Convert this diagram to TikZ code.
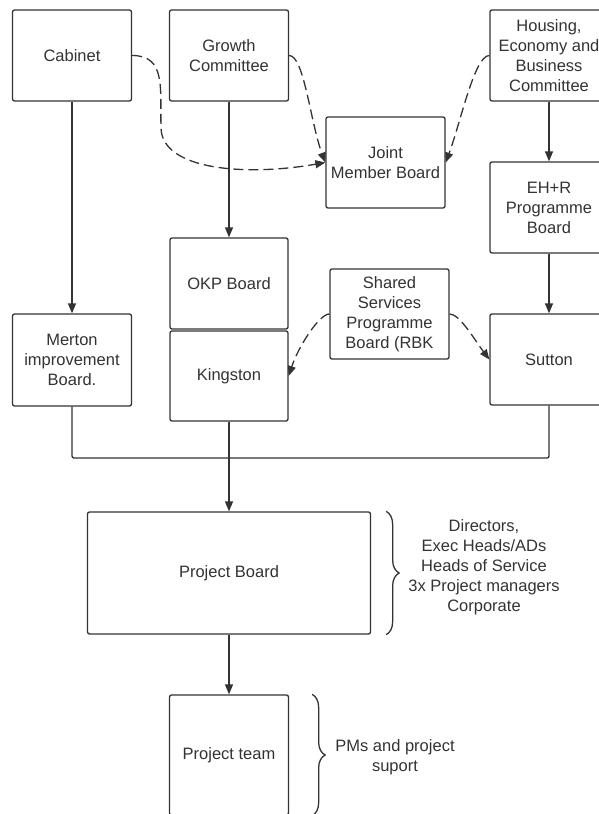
\documentclass[tikz,border=0pt]{standalone}
\usepackage{fontspec}
\setmainfont{Liberation Sans}
\usetikzlibrary{arrows.meta,decorations.pathreplacing}
\definecolor{linegrey}{HTML}{333333}

\begin{document}
\begin{tikzpicture}[x=1pt, y=-1pt,
  box/.style={draw=linegrey, line width=1.3pt, rounded corners=2pt, fill=white, align=center, inner sep=0pt, minimum width=119pt, minimum height=91pt, text=linegrey, font=\fontsize{16.5}{20}\selectfont},
  link/.style={draw=linegrey, line width=1.3pt, -{Triangle[length=10pt,width=8pt]}},
  dashlink/.style={link, dash pattern=on 10pt off 5pt},
  note/.style={align=center, text=linegrey, font=\fontsize{16.5}{20}\selectfont},
  bracket/.style={draw=linegrey, line width=1.3pt, decorate, decoration={brace, amplitude=13pt}}]
  \useasboundingbox (0,0) rectangle (599,814);
  \clip (0,0) rectangle (599,814);
  \node[box] (cab) at (72,55.5) {Cabinet};
  \node[box] (growth) at (229,55.5) {Growth\\Committee};
  \node[box, minimum width=118pt] (hebc) at (549,55.5) {Housing,\\Economy and\\Business\\Committee};
  \node[box] (jmb) at (385.5,162.5) {Joint\\Member Board};
  \node[box, minimum width=118pt] (ehr) at (549,207.5) {EH+R\\Programme\\Board};
  \node[box, minimum width=118pt] (okp) at (229,283.5) {OKP Board};
  \node[box, minimum width=118pt, minimum height=90pt] (kingston) at (229,376) {Kingston};
  \node[box, minimum height=92pt] (merton) at (72,360) {Merton\\improvement\\Board.};
  \node[box, minimum height=90pt] (ssp) at (389.5,314) {Shared\\Services\\Programme\\Board (RBK};
  \node[box, minimum width=118pt] (sutton) at (549,359.5) {Sutton};
  \node[box, minimum width=283pt, minimum height=122pt] (pboard) at (229,573) {Project Board};
  \node[box, minimum height=120pt] (pteam) at (229,755) {Project team};
  \node[note] (boardnote) at (484,567) {Directors,\\Exec Heads/ADs\\Heads of Service\\3x Project managers\\Corporate};
  \node[note] (teamnote) at (395,757) {PMs and project\\suport};
  \draw[bracket] ([xshift=15pt]pboard.north east) -- ([xshift=15pt]pboard.south east);
  \draw[bracket] ([xshift=23pt]pteam.north east) -- ([xshift=23pt]pteam.south east);
  \draw[link] (growth) -- (okp);
  \draw[link] (cab) -- (merton);
  \draw[link] (hebc) -- (ehr);
  \draw[link] (ehr) -- (sutton);
  \coordinate (bus) at (229,458);
  \draw[draw=linegrey, line width=1.3pt, rounded corners=2pt] (merton.south) |- (bus) -| (sutton.south);
  \draw[link] (kingston) -- (pboard);
  \draw[link] (pboard) -- (pteam);
  \coordinate (cabbend) at (161,128);
  \draw[dashlink] (cab.east) .. controls +(34,0) and +(-1,-40) .. (cabbend) .. controls +(1,42) and +(-80,14) .. (jmb.west);
  \draw[dashlink] (growth.east) .. controls +(15,0) and +(-15,-40) .. (jmb.west);
  \draw[dashlink] (hebc.west) .. controls +(-15,0) and +(15,-40) .. (jmb.east);
  \draw[dashlink] (ssp.west) .. controls +(-10,0) and +(10,-30) .. (kingston.east);
  \draw[dashlink] (ssp.east) .. controls +(10,0) and +(-15,-20) .. (sutton.west);
\end{tikzpicture}
\end{document}
